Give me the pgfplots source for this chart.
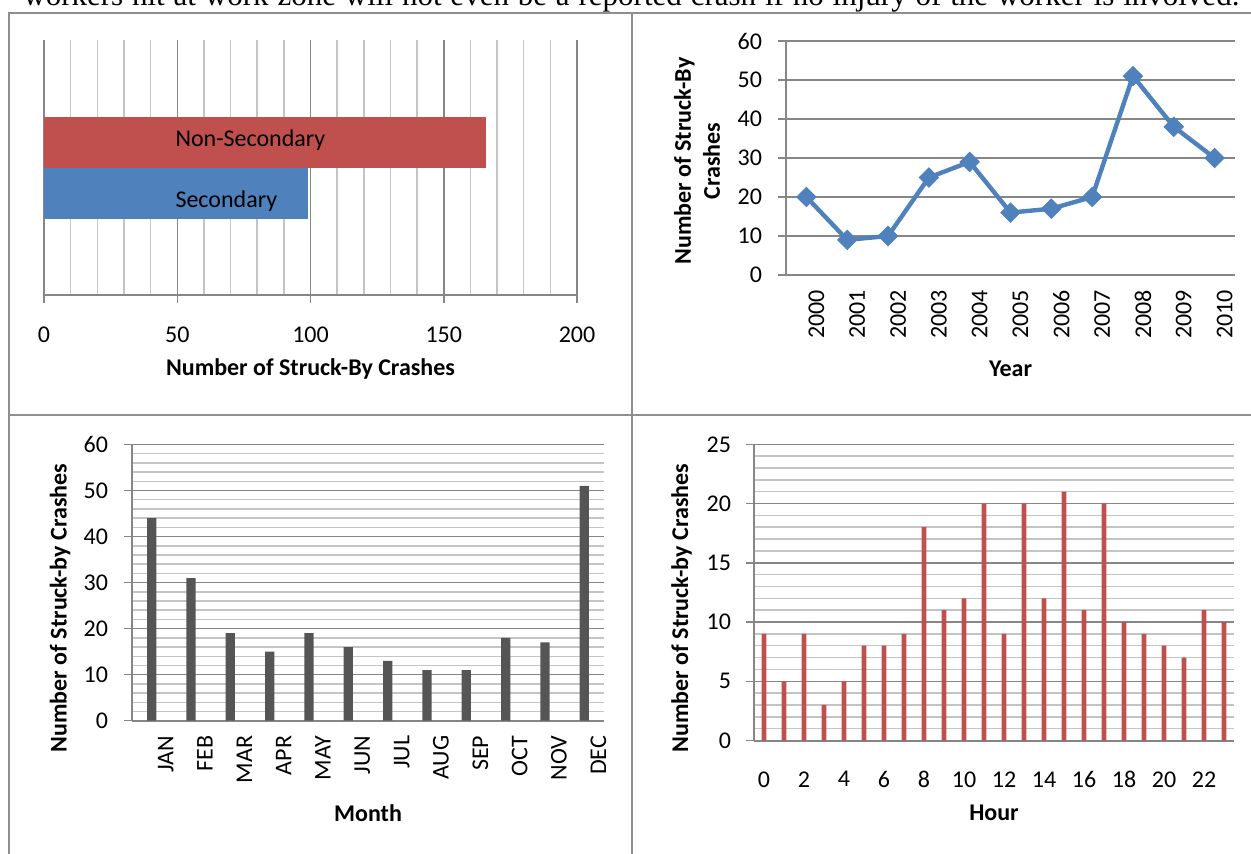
\documentclass[border=0pt]{standalone}
\usepackage{fontspec}
\setmainfont{Carlito}
\newfontfamily\docserif{Liberation Serif}
\usepackage{pgfplots}
\pgfplotsset{compat=1.18}

\definecolor{xred}{HTML}{C0504D}
\definecolor{xblue}{HTML}{4F81BD}
\definecolor{bargray}{HTML}{555555}
\definecolor{axisgray}{HTML}{868686}
\definecolor{mingray}{HTML}{C4C4C4}
\definecolor{tablegray}{HTML}{8E8E8E}

\pgfplotsset{
  /pgf/number format/assume math mode=true,
  tick label style={font=\fontsize{12}{14.4}\selectfont},
  label style={font=\fontsize{12}{14.5}\selectfont\bfseries},
  excel/.style={
    scale only axis, anchor=south west,
    axis line style={-, draw=axisgray, line width=1pt},
    tick style={draw=axisgray, line width=0.75pt},
    major grid style={draw=axisgray, line width=0.75pt},
    minor grid style={draw=mingray, line width=0.75pt},
    tick align=outside, major tick length=4pt, minor tick length=0pt,
  },
}

\begin{document}
\begin{tikzpicture}
\useasboundingbox (0pt,0pt) rectangle (625.5pt,-427pt);
\clip (0pt,0pt) rectangle (625.5pt,-427pt);

% cut-off sentence above the table
\node[anchor=base west, inner sep=0pt, font=\docserif\fontsize{15.5}{18}\selectfont] at (11.5pt,-3pt)
  {\makebox[608pt][s]{workers hit at work zone will not even be a reported crash if no injury of the worker is involved.}};

% table frame
\draw[tablegray, line width=1pt] (4.5pt,-427pt) -- (4.5pt,-6.35pt) -- (625.5pt,-6.35pt);
\draw[tablegray, line width=1pt] (316pt,-6.35pt) -- (316pt,-427pt);
\draw[tablegray, line width=1pt] (4.5pt,-207.75pt) -- (625.5pt,-207.75pt);

% ---------- Panel 1: secondary vs non-secondary ----------
\begin{axis}[excel,
  at={(22pt,-147.65pt)}, width=266.5pt, height=127.65pt,
  xmin=0, xmax=200, ymin=-1, ymax=1,
  axis x line*=bottom, axis y line=none,
  xtick={0,50,100,150,200}, minor x tick num=4,
  xmajorgrids, xminorgrids, ytick=\empty,
  xticklabel style={yshift=-8.5pt},
  xlabel={Number of Struck-By Crashes},
  xlabel style={at={(axis description cs:0.5,-0.29)}, anchor=center},
]
\addplot[xbar, bar shift=0pt, bar width=0.4, fill=xred, draw=none] coordinates {(166,0.2)};
\addplot[xbar, bar shift=0pt, bar width=0.4, fill=xblue, draw=none] coordinates {(99,-0.2)};
\node[anchor=base west, inner sep=0pt, font=\fontsize{12}{14.4}\selectfont] at (axis cs:49.2,0.168) {Non-Secondary};
\node[anchor=base west, inner sep=0pt, font=\fontsize{12}{14.4}\selectfont] at (axis cs:49.2,-0.31) {Secondary};
\end{axis}

% ---------- Panel 2: by year ----------
\begin{axis}[excel,
  at={(393pt,-137.5pt)}, width=224.5pt, height=117pt,
  xmin=-0.5, xmax=10.5, ymin=0, ymax=60,
  axis x line*=bottom, axis y line*=left,
  xtick={0,...,10},
  xticklabels={2000,2001,2002,2003,2004,2005,2006,2007,2008,2009,2010},
  xtick style={draw=none},
  xticklabel style={rotate=90, anchor=east, yshift=-5pt},
  ytick={0,10,...,60}, ymajorgrids,
  yticklabel style={xshift=-4.5pt},
  xlabel={Year},
  xlabel style={at={(axis description cs:0.5,-0.402)}, anchor=center},
  ylabel={Number of Struck-By\\Crashes},
  ylabel style={align=center, at={(axis description cs:-0.198,0.487)}, anchor=center},
]
\addplot[color=xblue, line width=2.2pt, mark=square*, mark size=3.4pt,
  mark options={rotate=45, fill=xblue, solid, line width=0.5pt}]
  coordinates {(0,20) (1,9) (2,10) (3,25) (4,29) (5,16) (6,17) (7,20) (8,51) (9,38) (10,30)};
\end{axis}

% ---------- Panel 3: by month ----------
\begin{axis}[excel,
  at={(66pt,-360.35pt)}, width=236pt, height=138.1pt,
  xmin=-0.5, xmax=11.5, ymin=0, ymax=60,
  axis x line*=bottom, axis y line*=left,
  xtick={0,...,11},
  xticklabels={JAN,FEB,MAR,APR,MAY,JUN,JUL,AUG,SEP,OCT,NOV,DEC},
  xtick style={draw=none},
  xticklabel style={rotate=90, anchor=east, yshift=-7pt},
  ytick={0,10,...,60}, minor y tick num=4, ymajorgrids, yminorgrids,
  yticklabel style={xshift=-4.5pt},
  xlabel={Month},
  xlabel style={at={(axis description cs:0.5,-0.334)}, anchor=center},
  ylabel={Number of Struck-by Crashes},
  ylabel style={at={(axis description cs:-0.1525,0.408)}, anchor=center},
]
\addplot[ybar, bar shift=0pt, bar width=4.65pt, fill=bargray, draw=none]
  coordinates {(0,44) (1,31) (2,19) (3,15) (4,19) (5,16) (6,13) (7,11) (8,11) (9,18) (10,17) (11,51)};
\end{axis}

% ---------- Panel 4: by hour ----------
\begin{axis}[excel,
  at={(377pt,-370.25pt)}, width=240pt, height=148.1pt,
  xmin=-0.5, xmax=23.5, ymin=0, ymax=25,
  axis x line*=bottom, axis y line*=left,
  xtick={0,2,...,22},
  xtick style={draw=none},
  xticklabel style={yshift=-8pt},
  ytick={0,5,...,25}, minor y tick num=4, ymajorgrids, yminorgrids,
  yticklabel style={xshift=-4pt},
  xlabel={Hour},
  xlabel style={at={(axis description cs:0.5,-0.245)}, anchor=center},
  ylabel={Number of Struck-by Crashes},
  ylabel style={at={(axis description cs:-0.151,0.447)}, anchor=center},
]
\addplot[ybar, bar shift=0pt, bar width=2.35pt, fill=xred, draw=none]
  coordinates {(0,9) (1,5) (2,9) (3,3) (4,5) (5,8) (6,8) (7,9) (8,18) (9,11) (10,12) (11,20)
               (12,9) (13,20) (14,12) (15,21) (16,11) (17,20) (18,10) (19,9) (20,8) (21,7) (22,11) (23,10)};
\end{axis}
\end{tikzpicture}
\end{document}
